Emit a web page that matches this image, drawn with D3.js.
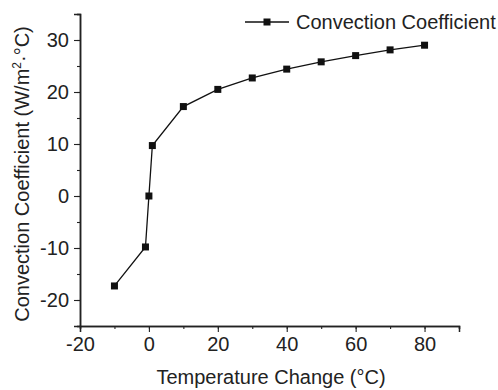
<!DOCTYPE html>
<html>
<head>
<meta charset="utf-8">
<script src="https://cdn.jsdelivr.net/npm/d3@7"></script>
<style>
  body { margin: 0; background: #fff; }
  text { font-family: "Liberation Sans", Arial, sans-serif; fill: #222; }
</style>
</head>
<body>
<svg id="grafico"></svg>
<script>
const tempChange = [-10, -1, 0, 1, 10, 20, 30, 40, 50, 60, 70, 80];
const convCoef = [-17.3, -9.8, 0, 9.7, 17.2, 20.5, 22.7, 24.4, 25.8, 27.0, 28.1, 29.0];
const xTicks = [-20, 0, 20, 40, 60, 80];
const yTicks = [-20, -10, 0, 10, 20, 30];
const serieName = 'Convection Coefficient';

const ancho = 498;
const alto = 390;
const margen = {left: 80, right: 39, top: 14, bottom: 64};

const svg = d3.select('#grafico').attr('width', ancho).attr('height', alto);

const escalaX = d3.scaleLinear().domain([-20, 90]).range([margen.left, ancho - margen.right]);
const escalaY = d3.scaleLinear().domain([-25, 35]).range([alto - margen.bottom, margen.top]);

const formato = function (d) { return String(d); };

// ejes con ticks menores
const xMenor = d3.axisBottom(escalaX).tickValues(d3.range(-20, 91, 10)).tickSize(3).tickFormat('');
const xMayor = d3.axisBottom(escalaX).tickValues(xTicks).tickSize(6).tickPadding(5).tickFormat(formato);
const yMenor = d3.axisLeft(escalaY).tickValues(d3.range(-25, 36, 5)).tickSize(3).tickFormat('');
const yMayor = d3.axisLeft(escalaY).tickValues(yTicks).tickSize(6).tickPadding(5).tickFormat(formato);

function estilo (g) {
    g.selectAll('path').attr('stroke', '#222').attr('stroke-width', 1.5);
    g.selectAll('line').attr('stroke', '#222').attr('stroke-width', 1.1);
    g.selectAll('text').style('font-size', '20px').style('fill', '#222');
}

svg.append('g').attr('transform', 'translate(0,' + escalaY(-25) + ')').call(xMenor).call(estilo);
svg.append('g').attr('transform', 'translate(0,' + escalaY(-25) + ')').call(xMayor).call(estilo);
svg.append('g').attr('transform', 'translate(' + escalaX(-20) + ',0)').call(yMenor).call(estilo);
svg.append('g').attr('transform', 'translate(' + escalaX(-20) + ',0)').call(yMayor).call(estilo);

// titulos de ejes
svg.append('text')
    .attr('x', 271)
    .attr('y', 384)
    .attr('text-anchor', 'middle')
    .style('font-size', '20px')
    .text('Temperature Change (°C)');

const yLabel = svg.append('text')
    .attr('transform', 'translate(29,174) rotate(-90)')
    .attr('text-anchor', 'middle')
    .style('font-size', '20px');
yLabel.append('tspan').text('Convection Coefficient (W/m');
yLabel.append('tspan').attr('dy', -8).style('font-size', '12px').text('2');
yLabel.append('tspan').attr('dy', 8).text('·°C)');

// linea y puntos
const linea = d3.line()
    .x(function (d, i) { return escalaX(tempChange[i]); })
    .y(function (d) { return escalaY(d); });

svg.append('path')
    .attr('d', linea(convCoef))
    .attr('fill', 'none')
    .attr('stroke', '#111')
    .attr('stroke-width', 1.3);

svg.selectAll('rect.punto')
    .data(convCoef).enter()
    .append('rect')
    .attr('class', 'punto')
    .attr('x', function (d, i) { return escalaX(tempChange[i]) - 3.5; })
    .attr('y', function (d) { return escalaY(d) - 3.5; })
    .attr('width', 7)
    .attr('height', 7)
    .attr('fill', '#111');

// leyenda
const ley = svg.append('g').attr('transform', 'translate(245,22)');
ley.append('line').attr('x1', 0).attr('x2', 44).attr('y1', 0).attr('y2', 0)
    .attr('stroke', '#111').attr('stroke-width', 1.3);
ley.append('rect').attr('x', 22 - 3.5).attr('y', -3.5).attr('width', 7).attr('height', 7).attr('fill', '#111');
ley.append('text').attr('x', 51).attr('y', 6.5).style('font-size', '20px').text(serieName);
</script>
</body>
</html>
